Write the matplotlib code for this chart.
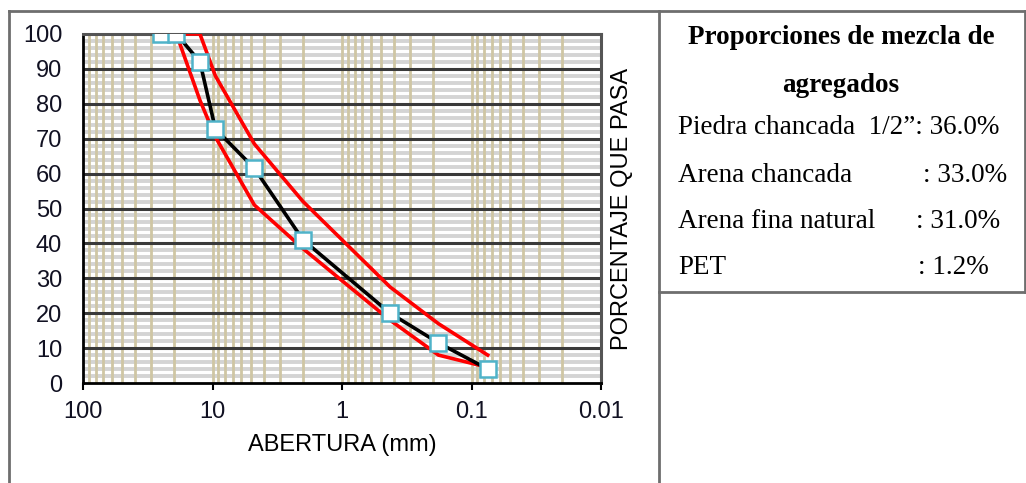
import matplotlib
matplotlib.use("Agg")
import matplotlib.pyplot as plt
from matplotlib.lines import Line2D
from matplotlib.ticker import FixedLocator, NullFormatter

# sieve openings (mm) and % passing
abertura = [25.0, 19.0, 12.5, 9.5, 4.75, 2.0, 0.425, 0.18, 0.075]
pasa = [100.0, 100.0, 92.0, 72.8, 61.5, 41.0, 20.0, 11.5, 4.0]

# gradation limits
lim_sup_x = [19.0, 12.5, 9.5, 4.75, 2.0, 0.425, 0.18, 0.075]
lim_sup_y = [100.0, 100.0, 88.0, 68.5, 52.0, 27.5, 17.0, 8.0]
lim_inf_x = [19.0, 12.5, 9.5, 4.75, 2.0, 0.425, 0.18, 0.075]
lim_inf_y = [100.0, 81.0, 70.5, 51.0, 38.5, 18.0, 8.0, 4.5]

xticks = [100, 10, 1, 0.1, 0.01]
xtick_labels = ["100", "10", "1", "0.1", "0.01"]
yticks = list(range(0, 101, 10))

titulo = ["Proporciones de mezcla de", "agregados"]
filas = [
    ("Piedra chancada  1/2\u201d: 36.0%", ""),
    ("Arena chancada", ": 33.0%"),
    ("Arena fina natural", ": 31.0%"),
    ("PET", ": 1.2%"),
]

W, H = 1026, 483
fig = plt.figure(figsize=(W / 100, H / 100), dpi=100)
fig.patch.set_facecolor("white")

ax = fig.add_axes([83 / W, 1 - 383 / H, (601 - 83) / W, (383 - 34) / H])
ax.set_xscale("log")
ax.set_xlim(100, 0.01)
ax.set_ylim(0, 100)

# grid: tan verticals, grey horizontals
minor_x = [m * 10.0 ** e for e in range(-2, 2) for m in range(2, 10)]
for v in minor_x + [10, 1, 0.1]:
    ax.axvline(v, color="#cfc6a4", lw=2.0, zorder=1)
for v in range(2, 100, 2):
    if v % 10:
        ax.axhline(v, color="#d4d4d4", lw=2.8, zorder=0.5)
for v in range(10, 100, 10):
    ax.axhline(v, color="#3a3a3a", lw=2.2, zorder=1.5)

ax.plot(lim_sup_x, lim_sup_y, color="#ff0000", lw=2.6, zorder=3)
ax.plot(lim_inf_x, lim_inf_y, color="#ff0000", lw=2.6, zorder=3)
ax.plot(abertura, pasa, color="black", lw=2.6, zorder=4,
        marker="s", markersize=11, markerfacecolor="white",
        markeredgecolor="#4fb3c9", markeredgewidth=1.8)

ax.xaxis.set_major_locator(FixedLocator(xticks))
ax.set_xticklabels(xtick_labels)
ax.xaxis.set_minor_locator(FixedLocator([]))
ax.xaxis.set_minor_formatter(NullFormatter())
ax.set_yticks(yticks)
ax.tick_params(axis="x", direction="out", length=5, width=1.5, pad=8,
               labelsize=17, colors="black")
ax.tick_params(axis="y", length=0, pad=15, labelsize=17)
for lab in ax.get_xticklabels() + ax.get_yticklabels():
    lab.set_fontfamily("Liberation Sans")
    lab.set_color("#111122")

for s in ["left", "bottom"]:
    ax.spines[s].set_color("black")
    ax.spines[s].set_linewidth(2)
for s in ["top", "right"]:
    ax.spines[s].set_color("#555555")
    ax.spines[s].set_linewidth(2.2)
    ax.spines[s].set_linestyle((0, (2, 1)))

ax.set_xlabel("ABERTURA (mm)", fontsize=17, family="Liberation Sans", labelpad=8)
ax.yaxis.set_label_position("right")
ax.set_ylabel("PORCENTAJE QUE PASA", fontsize=17, family="Liberation Sans",
              labelpad=7)

# outer frame and table box
frame_c = "#6e6e6e"
def fline(x0, y0, x1, y1):
    fig.add_artist(Line2D([x0 / W, x1 / W], [1 - y0 / H, 1 - y1 / H],
                          color=frame_c, lw=2.0, transform=fig.transFigure))
fline(9, 11, 1025, 11)
fline(9, 11, 9, 483)
fline(659, 11, 659, 483)
fline(1025, 11, 1025, 292)
fline(659, 292, 1025, 292)

serif = "Liberation Serif"
fs = 19.5
fig.text(841 / W, 1 - 37 / H, titulo[0], ha="center", va="center",
         fontsize=fs, fontweight="bold", family=serif)
fig.text(841 / W, 1 - 86 / H, titulo[1], ha="center", va="center",
         fontsize=fs, fontweight="bold", family=serif)
row_y = [128, 176, 222, 268]
col_x = [None, 923, 916, 918]
for (izq, der), y, cx in zip(filas, row_y, col_x):
    fig.text(678 / W, 1 - y / H, izq, ha="left", va="center",
             fontsize=fs, family=serif)
    if der:
        fig.text(cx / W, 1 - y / H, der, ha="left", va="center",
                 fontsize=fs, family=serif)

fig.savefig("out.png", dpi=100)
